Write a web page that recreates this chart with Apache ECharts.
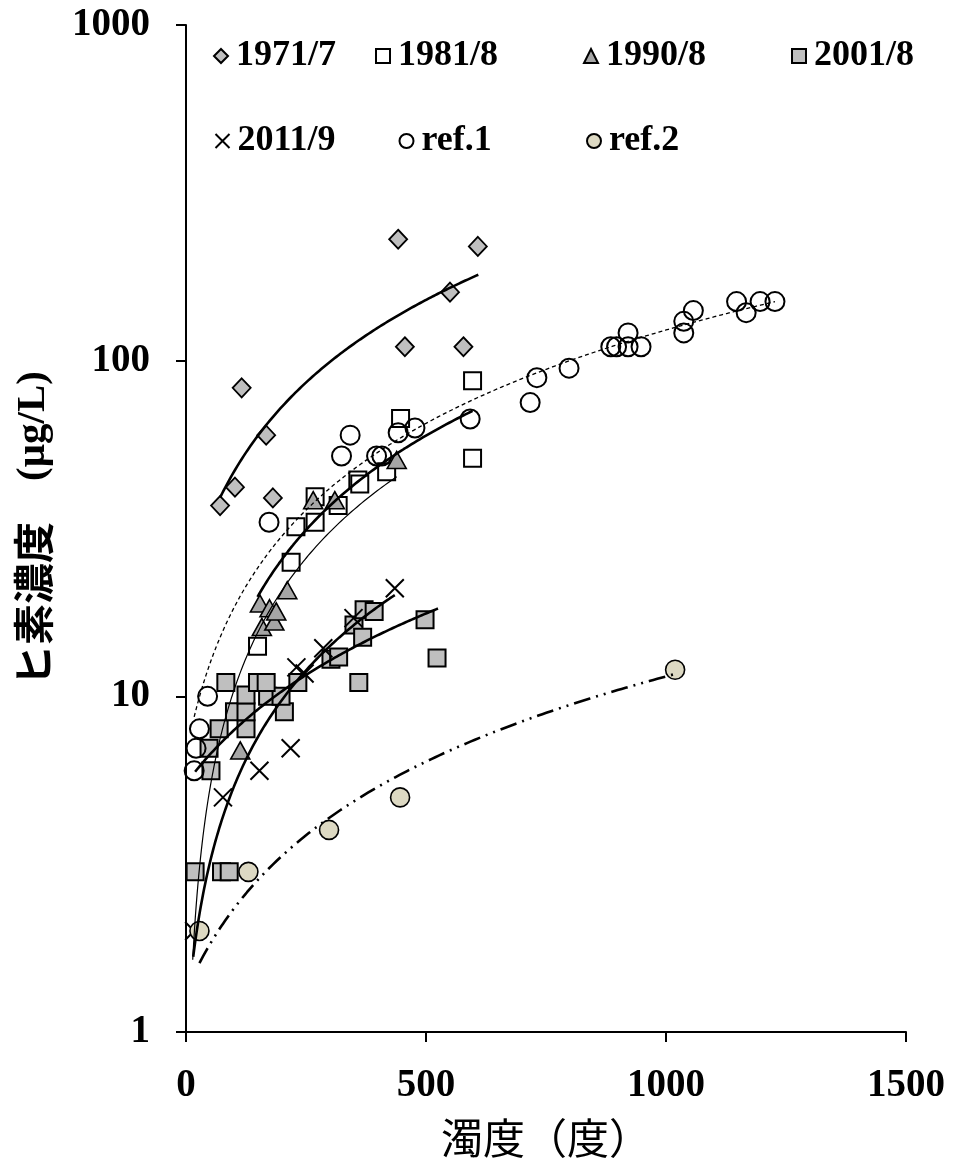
<!DOCTYPE html>
<html>
<head>
<meta charset="utf-8">
<script src="https://cdn.jsdelivr.net/npm/echarts@6/dist/echarts.min.js"></script>
<style>
  html, body { margin: 0; padding: 0; background: #fff; }
  #chart { width: 953px; height: 1164px; }
</style>
</head>
<body>
<div id="chart"></div>
<script>
// Axis ticks
const xTicks = [0, 500, 1000, 1500];
const yTicks = [1, 10, 100, 1000];

// Survey names
const seriesNames = ['1971/7', '1981/8', '1990/8', '2001/8', '2011/9', 'ref.1', 'ref.2'];

// Turbidity (度) and arsenic concentration (µg/L) per survey
const x1971 = [71, 102, 116, 167, 181, 442, 456, 550, 578, 608];
const y1971 = [37, 42, 83, 60, 39, 230, 110, 160, 110, 219];

const x1981 = [149, 219, 229, 269, 269, 317, 358, 362, 418, 447, 597, 597];
const y1981 = [14.1, 25.1, 32, 33, 39.3, 37, 44.1, 42.9, 46.7, 67.3, 51.2, 87.1];

const x1990 = [113, 154, 158, 174, 184, 188, 211, 265, 310, 439];
const y1990 = [6.9, 18.9, 16.1, 18.3, 16.7, 17.9, 20.7, 38.4, 38.4, 50.6];

const x2001 = [19, 74, 90, 48, 52, 69, 125, 101, 125, 205, 125, 170, 198, 83, 149, 167, 233, 360, 302, 318, 350, 368, 371, 392, 498, 523];
const y2001 = [3, 3, 3, 7, 6, 8, 8, 9, 9, 9, 10.1, 10, 10, 11, 11, 11, 11, 11, 12.9, 13.1, 16.3, 15, 18.1, 17.9, 16.9, 13];

const x2011 = [17, 77, 153, 218, 230, 247, 286, 349, 435];
const y2011 = [2, 5, 6, 7, 12.2, 11.7, 13.9, 17.1, 21];

const xRef1 = [17, 21, 28, 45, 173, 324, 342, 397, 408, 442, 477, 592, 717, 731, 798, 885, 897, 921, 921, 948, 1037, 1037, 1057, 1147, 1167, 1196, 1227];
const yRef1 = [6, 7, 8, 10, 33, 52, 60, 52, 52, 61, 63, 67, 75, 89, 95, 110, 110, 121, 110, 110, 121, 131, 141, 150, 139, 150, 150];

const xRef2 = [28, 130, 298, 446, 1019];
const yRef2 = [2, 3, 4, 5, 12];

// Linear trend lines (y = slope * x + intercept) and their x spans
const trendSlope     = [0.2625, 0.114, 0.1023, 0.0243, 0.0437, 0.1167, 0.01014];
const trendIntercept = [20.45, 2.8, 0.21, 5.5, 1.02, 6.7, 1.32];
const trendFrom      = [71, 149, 14, 19, 15, 17, 28];
const trendTo        = [609, 597, 439, 525, 435, 1227, 1019];

const xs = [x1971, x1981, x1990, x2001, x2011, xRef1, xRef2];
const ys = [y1971, y1981, y1990, y2001, y2011, yRef1, yRef2];

const serif = "'Liberation Serif', 'Noto Sans CJK JP', serif";
const cjk = "'Noto Sans CJK JP', 'Liberation Serif', sans-serif";

// Marker looks for each survey
const markers = [
  { symbol: 'diamond', size: [18, 19], fill: '#bfbfbf', bw: 1.8 },
  { symbol: 'rect', size: 17, fill: '#ffffff', bw: 2 },
  { symbol: 'triangle', size: [19, 17], fill: '#a6a6a6', bw: 1.6 },
  { symbol: 'rect', size: 17, fill: '#bfbfbf', bw: 2 },
  { symbol: 'path://M0,0L10,10M10,0L0,10', size: 18, fill: 'none', bw: 2 },
  { symbol: 'circle', size: 19, fill: 'none', bw: 2 },
  { symbol: 'circle', size: 19, fill: '#ddd9c3', bw: 1.6 }
];

// Trend line looks
const trendStyles = [
  { width: 2.6, type: 'solid' },
  { width: 2.6, type: 'solid' },
  { width: 1.2, type: 'solid' },
  { width: 2.6, type: 'solid' },
  { width: 2.6, type: 'solid' },
  { width: 1.3, type: [4, 3] },
  { width: 2.6, type: [17, 6, 2, 6, 2, 6] }
];

// Legend placement (two rows)
const legendPos = [
  [208, 33], [370, 33], [578, 33], [786, 33],
  [208, 118], [392, 118], [581, 118]
];

const scatterSeries = seriesNames.map((name, i) => ({
  name: name,
  type: 'scatter',
  data: xs[i].map((x, k) => [x, ys[i][k]]),
  symbol: markers[i].symbol,
  symbolSize: markers[i].size,
  itemStyle: {
    color: markers[i].fill,
    borderColor: '#000',
    borderWidth: markers[i].bw,
    opacity: 1
  },
  emphasis: { disabled: true },
  z: 2
}));

const trendSeries = seriesNames.map((name, i) => {
  const pts = [];
  const n = 240;
  for (let k = 0; k <= n; k++) {
    const x = trendFrom[i] + (trendTo[i] - trendFrom[i]) * k / n;
    pts.push([x, trendSlope[i] * x + trendIntercept[i]]);
  }
  return {
    name: 'trend ' + name,
    type: 'line',
    data: pts,
    showSymbol: false,
    symbol: 'none',
    silent: true,
    lineStyle: { color: '#000', width: trendStyles[i].width, type: trendStyles[i].type, cap: 'butt' },
    emphasis: { disabled: true },
    z: 3
  };
});

const chart = echarts.init(document.getElementById('chart'), null, { renderer: 'canvas' });

chart.setOption({
  animation: false,
  backgroundColor: '#ffffff',
  grid: { left: 186, right: 47, top: 25, bottom: 132, containLabel: false },
  legend: seriesNames.map((name, i) => ({
    data: [name],
    left: legendPos[i][0],
    top: legendPos[i][1],
    orient: 'horizontal',
    itemWidth: 14,
    itemHeight: 14,
    itemGap: 0,
    selectedMode: false,
    textStyle: { fontFamily: serif, fontSize: 36, fontWeight: 'bold', color: '#000', padding: [0, 0, 0, 3] }
  })),
  xAxis: {
    type: 'value',
    min: xTicks[0],
    max: xTicks[xTicks.length - 1],
    interval: xTicks[1] - xTicks[0],
    name: '濁度（度）',
    nameLocation: 'middle',
    nameGap: 85,
    nameTextStyle: { fontFamily: cjk, fontSize: 42, color: '#000' },
    axisLine: { show: true, onZero: false, lineStyle: { color: '#000', width: 2 } },
    axisTick: { show: true, inside: false, length: 10, lineStyle: { color: '#000', width: 2 } },
    axisLabel: {
      margin: 34,
      fontFamily: serif,
      fontSize: 39,
      fontWeight: 'bold',
      color: '#000',
      formatter: v => String(v)
    },
    splitLine: { show: false }
  },
  yAxis: {
    type: 'log',
    logBase: 10,
    min: yTicks[0],
    max: yTicks[yTicks.length - 1],
    name: '{c|ヒ素濃度　}{l|(μg/L)}',
    nameLocation: 'middle',
    nameRotate: 90,
    nameGap: 132,
    nameTextStyle: {
      color: '#000',
      fontFamily: cjk,
      fontSize: 41,
      rich: {
        c: { fontFamily: cjk, fontSize: 41, fontWeight: 'bold', color: '#000' },
        l: { fontFamily: serif, fontSize: 41, fontWeight: 'bold', color: '#000' }
      }
    },
    axisLine: { show: true, lineStyle: { color: '#000', width: 2 } },
    axisTick: { show: true, inside: false, length: 10, lineStyle: { color: '#000', width: 2 } },
    minorTick: { show: false },
    axisLabel: {
      margin: 36,
      fontFamily: serif,
      fontSize: 39,
      fontWeight: 'bold',
      color: '#000',
      formatter: v => String(Math.round(v))
    },
    splitLine: { show: false },
    minorSplitLine: { show: false }
  },
  series: scatterSeries.concat(trendSeries)
});
</script>
</body>
</html>
